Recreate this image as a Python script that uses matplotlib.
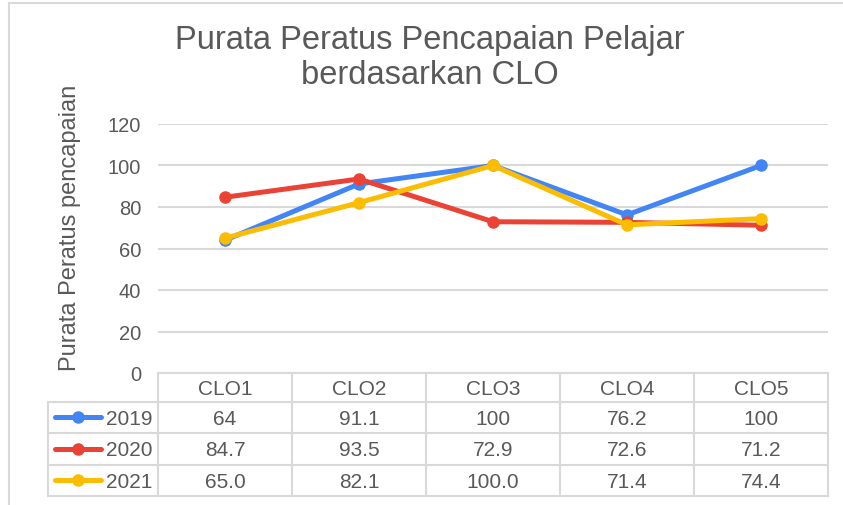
import matplotlib
matplotlib.use("Agg")
import matplotlib.pyplot as plt
from matplotlib.lines import Line2D

plt.rcParams['font.family'] = ['Liberation Sans', 'DejaVu Sans']

categories = ["CLO1", "CLO2", "CLO3", "CLO4", "CLO5"]
series_names = ["2019", "2020", "2021"]
v2019 = [64, 91.1, 100, 76.2, 100]
v2020 = [84.7, 93.5, 72.9, 72.6, 71.2]
v2021 = [65.0, 82.1, 100.0, 71.4, 74.4]
labels2019 = ["64", "91.1", "100", "76.2", "100"]
labels2020 = ["84.7", "93.5", "72.9", "72.6", "71.2"]
labels2021 = ["65.0", "82.1", "100.0", "71.4", "74.4"]
yticks = [0, 20, 40, 60, 80, 100, 120]

colors = ["#4285F4", "#EA4335", "#FBBC04"]
grey_text = "#595959"
grid_col = "#d9d9d9"

W, H = 843, 506
fig = plt.figure(figsize=(W / 100, H / 100), dpi=100)


def box(x0, y0, x1, y1):
    # pixel box (top-left origin) -> figure fraction rect
    return [x0 / W, 1 - y1 / H, (x1 - x0) / W, (y1 - y0) / H]


# outer border (left and top only visible)
fig.add_artist(Line2D([9 / W, 9 / W], [0, 1 - 4 / H], transform=fig.transFigure,
                      color=grid_col, lw=1.5))
fig.add_artist(Line2D([9 / W, 1], [1 - 4 / H, 1 - 4 / H], transform=fig.transFigure,
                      color=grid_col, lw=1.5))

# main plot
ax = fig.add_axes(box(158, 125, 828, 374))
ax.set_xlim(-0.5, 4.5)
ax.set_ylim(0, 120)
for s in ax.spines.values():
    s.set_visible(False)
ax.set_yticks(yticks)
ax.set_yticklabels([str(t) for t in yticks], fontsize=14.5, color=grey_text)
ax.tick_params(axis='y', length=0, pad=12)
ax.set_xticks([])
ax.grid(axis='y', color=grid_col, lw=1.5)
ax.set_axisbelow(True)

x = list(range(len(categories)))
for vals, c in zip([v2019, v2020, v2021], colors):
    ax.plot(x, vals, color=c, lw=3.6, marker='o', ms=8, clip_on=False,
            solid_capstyle='round')

fig.text(70 / W, 1 - 228 / H, "Purata Peratus pencapaian", rotation=90,
         ha='center', va='center', fontsize=17, color=grey_text)

fig.text(430 / W, 1 - 41 / H, "Purata Peratus Pencapaian Pelajar", ha='center',
         va='center', fontsize=23.5, color=grey_text)
fig.text(430 / W, 1 - 76 / H, "berdasarkan CLO", ha='center',
         va='center', fontsize=23.5, color=grey_text)

# data table below the plot
tab = fig.add_axes(box(48, 374, 828, 497))
tab.set_xlim(48, 828)
tab.set_ylim(497, 374)
tab.axis('off')
col_edges = [158 + 134 * i for i in range(6)]
row_edges = [374, 403, 434, 466, 497]
lk = dict(color=grid_col, lw=1.5, clip_on=False)
for xe in col_edges:
    tab.plot([xe, xe], [374, 497], **lk)
tab.plot([48, 48], [403, 497], **lk)
tab.plot([158, 828], [374, 374], **lk)
for ye in row_edges[1:]:
    tab.plot([48, 828], [ye, ye], **lk)

for i, cat in enumerate(categories):
    cx = (col_edges[i] + col_edges[i + 1]) / 2
    tab.text(cx, (row_edges[0] + row_edges[1]) / 2 + 1, cat, ha='center', va='center',
             fontsize=15, color=grey_text)

for r, (name, labs, c) in enumerate(zip(series_names, [labels2019, labels2020, labels2021], colors)):
    cy = (row_edges[r + 1] + row_edges[r + 2]) / 2
    tab.plot([55, 101], [cy, cy], color=c, lw=3.6, solid_capstyle='round', clip_on=False)
    tab.plot([78], [cy], marker='o', ms=8, color=c, clip_on=False)
    tab.text(106, cy + 1, name, ha='left', va='center', fontsize=15, color=grey_text)
    for i, lab in enumerate(labs):
        cx = (col_edges[i] + col_edges[i + 1]) / 2
        tab.text(cx, cy + 1, lab, ha='center', va='center', fontsize=15, color=grey_text)

fig.savefig("out.png", dpi=100)
